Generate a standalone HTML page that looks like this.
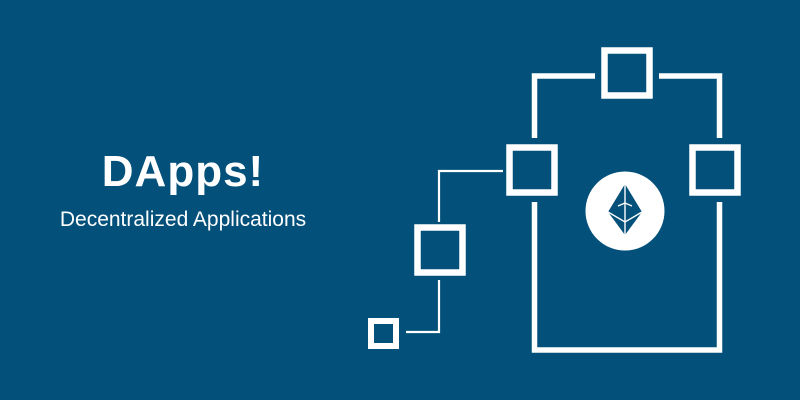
<!DOCTYPE html>
<html><head><style>
html,body{margin:0;padding:0;}
body{width:800px;height:400px;background:#03507a;position:relative;overflow:hidden;font-family:"Liberation Sans",Arial,sans-serif;color:#fff;}
.t{position:absolute;left:0;width:366px;text-align:center;}
</style></head><body>
<div class="t" style="top:147px;font-size:44px;font-weight:bold;letter-spacing:1px;">DApps!</div>
<div class="t" style="top:208px;font-size:21px;">Decentralized Applications</div>
<svg width="800" height="400" style="position:absolute;left:0;top:0">
<g fill="none" stroke="#fff">
<path d="M595 76 H534.5 V138 M534.5 202 V350 H719.5 V202 M719.5 138 V76 H659" stroke-width="5.5"/>
<path d="M503 171 H439 V222 M439 280 V332 H406" stroke-width="2.2"/>
<rect x="604.5" y="50.5" width="45" height="45" stroke-width="6.5"/>
<rect x="509.5" y="147.5" width="45" height="45" stroke-width="6.5"/>
<rect x="692.5" y="147.5" width="45" height="45" stroke-width="6.5"/>
<rect x="417.5" y="227.5" width="45" height="45" stroke-width="6.5"/>
<rect x="371" y="321" width="25" height="25" stroke-width="6"/>
</g>
<circle cx="625" cy="211" r="39.5" fill="#fff"/>
<path d="M625 184 L642 212 L625 235 L608 212 Z" fill="#03507a"/>
<g stroke="#fff" stroke-width="1.4" fill="none">
<path d="M625 184 V235"/>
<path d="M608 212 L625 222 L642 212"/>
<path d="M618 206 L625 203 L632 206"/>
</g>
</svg>
</body></html>
